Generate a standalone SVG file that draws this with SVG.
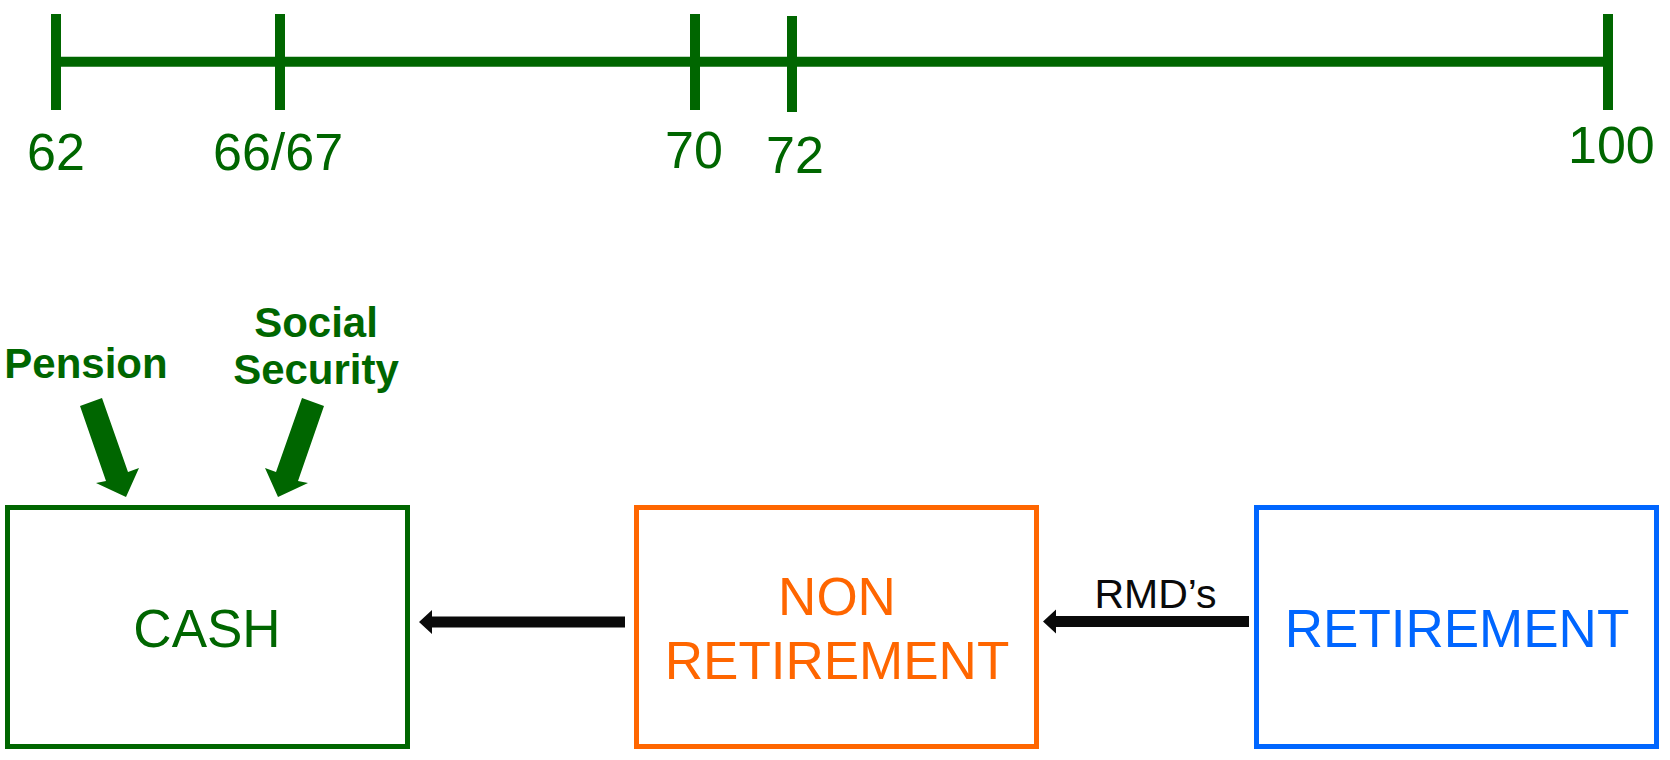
<svg xmlns="http://www.w3.org/2000/svg" width="1670" height="760" viewBox="0 0 1670 760">
<style>
.tl{stroke:#006600;stroke-width:10;fill:none}
.age{font-family:"Liberation Sans",Arial,sans-serif;font-size:52px;fill:#006600}
.src{font-family:"Liberation Sans",Arial,sans-serif;font-size:42px;font-weight:bold;fill:#006600;text-anchor:middle}
.box{fill:#fff;stroke-width:5}
.lbl{font-family:"Liberation Sans",Arial,sans-serif;font-size:53px;text-anchor:middle}
.conn{fill:#0a0a0a}
.fat{fill:#006600}
</style>
<rect width="1670" height="760" fill="#fff"/>
<g id="timeline">
<line class="tl" x1="56" y1="61.7" x2="1608" y2="61.7"/>
<line class="tl" x1="56" y1="14" x2="56" y2="110"/>
<line class="tl" x1="280" y1="14" x2="280" y2="110"/>
<line class="tl" x1="695" y1="14" x2="695" y2="110"/>
<line class="tl" x1="792" y1="16" x2="792" y2="112"/>
<line class="tl" x1="1608" y1="14" x2="1608" y2="110"/>
<text class="age" x="27" y="170">62</text>
<text class="age" x="213" y="170">66/67</text>
<text class="age" x="665" y="168">70</text>
<text class="age" x="766" y="173">72</text>
<text class="age" x="1568" y="163">100</text>
</g>
<g id="pension">
<text class="src" x="86" y="378">Pension</text>
<polygon class="fat" points="80,406 102,398 128,472 139,468 126,497 96,483 106,481"/>
</g>
<g id="social-security">
<text class="src" x="316" y="337">Social</text>
<text class="src" x="316" y="384">Security</text>
<polygon class="fat" transform="translate(404,0) scale(-1,1)" points="80,406 102,398 128,472 139,468 126,497 96,483 106,481"/>
</g>
<g id="cash">
<rect class="box" x="7.5" y="507.5" width="400" height="239" stroke="#006600"/>
<text class="lbl" x="207" y="647" fill="#006600">CASH</text>
</g>
<g id="non-retirement">
<rect class="box" x="636.5" y="507.5" width="400" height="239" stroke="#FF6600"/>
<text class="lbl" x="837" y="615" fill="#FF6600">NON</text>
<text class="lbl" x="837" y="679" fill="#FF6600">RETIREMENT</text>
</g>
<g id="retirement">
<rect class="box" x="1256.5" y="507.5" width="400" height="239" stroke="#0066FF"/>
<text class="lbl" x="1457" y="647" fill="#0066FF">RETIREMENT</text>
</g>
<g id="connectors">
<polygon class="conn" points="419,622 432,610 432,616.5 625,616.5 625,627.5 432,627.5 432,634"/>
<polygon class="conn" points="1043,621.5 1056,609.5 1056,616 1249,616 1249,627 1056,627 1056,633.5"/>
<text x="1155.5" y="608" font-family="Liberation Sans,Arial,sans-serif" font-size="41" fill="#0a0a0a" text-anchor="middle">RMD’s</text>
</g>
</svg>
